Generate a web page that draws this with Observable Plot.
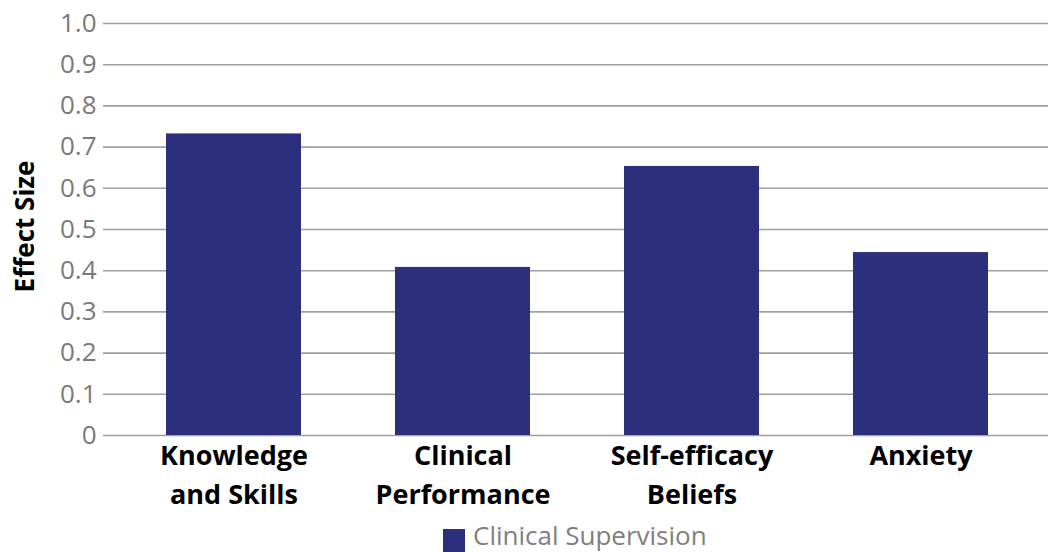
<!DOCTYPE html>
<html><head><meta charset="utf-8">
<script src="https://cdn.jsdelivr.net/npm/d3@7"></script>
<script src="https://cdn.jsdelivr.net/npm/@observablehq/plot@0.6"></script>
<style>
body{margin:0;background:#fff;font-family:"Open Sans",sans-serif;}
#wrap{position:relative;width:1055px;height:552px;overflow:hidden;}
#legend .sw{position:absolute;left:443px;top:529px;width:22px;height:23px;background:#2C307C;}
#legend .lt{position:absolute;left:473px;top:522px;font-size:26px;line-height:26px;color:#7f7f7f;white-space:nowrap;}
</style>
</head><body><div id="wrap"><div id="chart"></div><div id="legend"></div></div>
<script>
const categories = ["Knowledge\nand Skills", "Clinical\nPerformance", "Self-efficacy\nBeliefs", "Anxiety"];
const values = [0.732, 0.408, 0.653, 0.444];
const yTicks = [0, 0.1, 0.2, 0.3, 0.4, 0.5, 0.6, 0.7, 0.8, 0.9, 1.0];
const seriesName = "Clinical Supervision";
const yTitle = "Effect Size";

const data = categories.map((c, i) => ({category: c, value: values[i]}));
const barColor = "#2C307C";
const gridColor = "#a0a0a0";

const chart = Plot.plot({
  width: 1055,
  height: 522,
  marginTop: 23,
  marginBottom: 87,
  marginLeft: 103,
  marginRight: 7,
  style: {fontFamily: "'Open Sans', sans-serif", background: "#fff"},
  x: {type: "band", domain: categories, range: [119, 1035], paddingInner: 0.41, paddingOuter: 0.205},
  y: {domain: [0, 1]},
  marks: [
    Plot.ruleY(yTicks, {stroke: gridColor, strokeWidth: 1.6}),
    Plot.barY(data, {x: "category", y: "value", fill: barColor}),
    Plot.axisY({ticks: yTicks, tickSize: 0, tickPadding: 7, fontSize: 26, color: "#7a7a7a",
      tickFormat: d => d === 0 ? "0" : d.toFixed(1), label: null}),
    Plot.axisX({tickSize: 0, tickPadding: 2, fontSize: 27, fontWeight: "bold", color: "#000",
      lineHeight: 1.44, label: null}),
    Plot.text([yTitle], {frameAnchor: "left", textAnchor: "middle", rotate: -90, dx: -78, dy: -3, fontWeight: "bold", fontSize: 26, fill: "#000"})
  ]
});
document.getElementById("chart").appendChild(chart);
document.getElementById("legend").innerHTML = `<span class="sw"></span><span class="lt">${seriesName}</span>`;
</script>
</body></html>
